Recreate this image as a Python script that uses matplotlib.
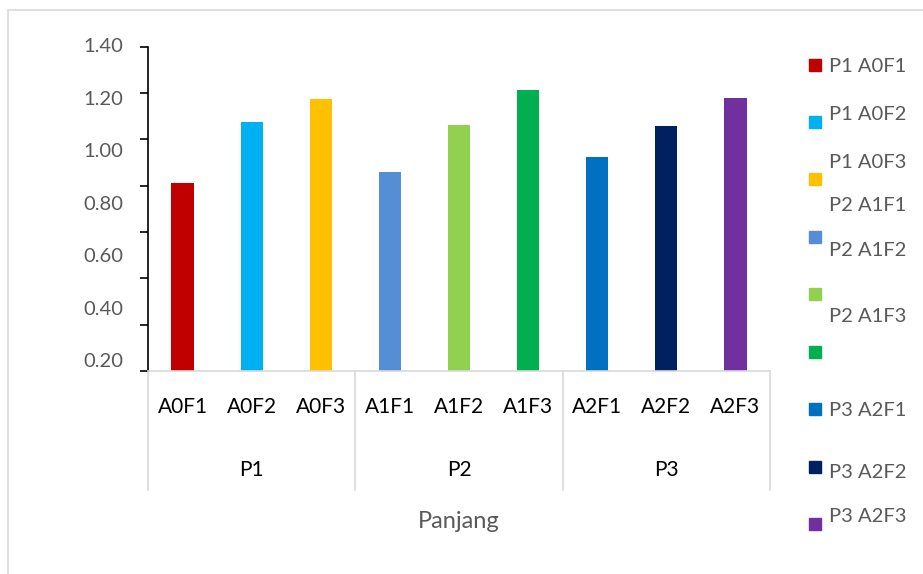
import matplotlib.pyplot as plt
import matplotlib.transforms as mtransforms
from matplotlib.patches import Rectangle
import numpy as np

plt.rcParams['font.family'] = ['Lato', 'DejaVu Sans']

groups = ["P1", "P2", "P3"]
categories = ["A0F1", "A0F2", "A0F3", "A1F1", "A1F2", "A1F3", "A2F1", "A2F2", "A2F3"]
values = [0.81, 1.075, 1.175, 0.86, 1.062, 1.213, 0.924, 1.058, 1.179]
colors = ["#C00000", "#00B0F0", "#FFC000", "#558ED5", "#92D050",
          "#00B050", "#0070C0", "#002060", "#7030A0"]
series_names = ["P1 A0F1", "P1 A0F2", "P1 A0F3", "P2 A1F1", "P2 A1F2",
                "P2 A1F3", "P3 A2F1", "P3 A2F2", "P3 A2F3"]
ytick_labels = ["1.40", "1.20", "1.00", "0.80", "0.60", "0.40", "0.20"]
x_title = "Panjang"

W, H = 923, 574
fig = plt.figure(figsize=(W / 100, H / 100), dpi=100)
ax = fig.add_axes([148 / W, 1 - 371 / H, (770 - 148) / W, (371 - 46.7) / H])

x = np.arange(len(categories))
ax.bar(x, values, width=0.32, color=colors, zorder=2)
ax.set_xlim(-0.5, len(categories) - 0.5)
ax.set_ylim(0, 1.4)

# y axis: tick marks every 0.2, labels drawn where they sit in the original
ax.set_yticks(np.arange(0, 1.41, 0.2))
ax.tick_params(axis='y', which='major', length=6, width=1.2, color='black',
               labelleft=False, direction='out')
ytrans = mtransforms.blended_transform_factory(ax.transAxes, ax.transData)
lab_pos = np.linspace(1.40, 0.04, len(ytick_labels))
for p, t in zip(lab_pos, ytick_labels):
    ax.text(-25 / (770 - 148), p, t, transform=ytrans, ha='right',
            va='center', fontsize=14.5, color='#595959')

for s in ['top', 'right']:
    ax.spines[s].set_visible(False)
ax.spines['left'].set_color('black')
ax.spines['left'].set_linewidth(1.2)
ax.spines['bottom'].set_color('#D9D9D9')
ax.spines['bottom'].set_linewidth(1.2)

# multi-level category axis
ax.set_xticks(x)
ax.set_xticklabels(categories, fontsize=15, color='black')
ax.tick_params(axis='x', length=0, pad=19)
trans = mtransforms.blended_transform_factory(ax.transData, ax.transAxes)
n = len(categories) // len(groups)
for i, g in enumerate(groups):
    ax.text(i * n + (n - 1) / 2, -0.306, g, transform=trans, ha='center',
            va='center', fontsize=15, color='black')
for b in np.arange(len(groups) + 1) * n - 0.5:
    ax.plot([b, b], [0, -0.367], transform=trans, color='#D9D9D9', lw=1.2,
            clip_on=False)
ax.text(0.5 * (len(categories) - 1), -0.463, x_title, transform=trans,
        ha='center', va='center', fontsize=17, color='#595959')

# legend, laid out as in the original
sq_y = [65, 122, 179, 237, 294, 352, 409, 467, 524]
txt_y = [67, 115, 162, 206, 250, 316, 410, 473, 517]
for c, name, sy, ty in zip(colors, series_names, sq_y, txt_y):
    fig.patches.append(Rectangle((809 / W, 1 - (sy + 6) / H), 12 / W, 12 / H,
                                 transform=fig.transFigure, color=c))
    fig.text(829 / W, 1 - ty / H, name, ha='left', va='center',
             fontsize=14.5, color='#595959')

# chart border
fig.patches.append(Rectangle((8 / W, -0.1), 1.2, 1.1 - 10 / H, fill=False,
                             edgecolor='#D9D9D9', lw=1.2,
                             transform=fig.transFigure))

fig.savefig("out.png", dpi=100)
